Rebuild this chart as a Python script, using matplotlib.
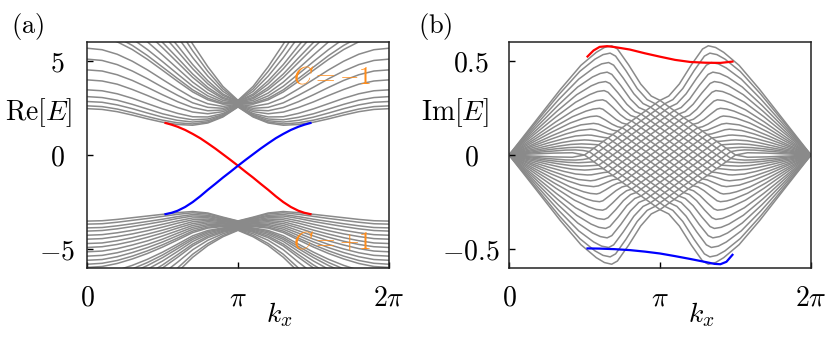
import numpy as np
import matplotlib
matplotlib.use("Agg")
import matplotlib.pyplot as plt

plt.rcParams['mathtext.fontset'] = 'cm'
plt.rcParams['font.family'] = 'serif'
plt.rcParams['font.serif'] = ['DejaVu Serif']

# ---- panel (a): Re[E], bulk bands read on the left half (kx in units of pi), mirrored about pi
kx_half = [0, 0.1, 0.2, 0.3, 0.4, 0.5, 0.6, 0.7, 0.8, 0.9, 1.0]

re_upper = [
    [2.46, 2.42, 2.30, 2.12, 1.92, 1.74, 1.62, 1.58, 1.70, 2.02, 2.55],
    [2.61, 2.57, 2.44, 2.25, 2.04, 1.85, 1.71, 1.65, 1.75, 2.05, 2.57],
    [2.84, 2.80, 2.66, 2.46, 2.23, 2.01, 1.84, 1.75, 1.82, 2.10, 2.59],
    [3.10, 3.05, 2.91, 2.69, 2.44, 2.19, 2.00, 1.87, 1.91, 2.14, 2.61],
    [3.46, 3.41, 3.25, 3.01, 2.73, 2.45, 2.21, 2.03, 2.02, 2.20, 2.62],
    [3.99, 3.93, 3.76, 3.48, 3.16, 2.82, 2.52, 2.28, 2.19, 2.30, 2.64],
    [4.52, 4.46, 4.26, 3.96, 3.59, 3.20, 2.83, 2.52, 2.35, 2.39, 2.66],
    [5.09, 5.02, 4.80, 4.46, 4.05, 3.60, 3.17, 2.77, 2.53, 2.48, 2.68],
    [5.67, 5.59, 5.35, 4.98, 4.52, 4.01, 3.51, 3.04, 2.72, 2.58, 2.70],
    [6.36, 6.27, 6.01, 5.60, 5.08, 4.50, 3.91, 3.35, 2.93, 2.70, 2.72],
    [6.61, 6.52, 6.25, 5.82, 5.28, 4.67, 4.06, 3.46, 3.01, 2.74, 2.73],
    [7.01, 6.92, 6.63, 6.17, 5.60, 4.96, 4.30, 3.65, 3.14, 2.81, 2.75],
    [7.51, 7.41, 7.10, 6.62, 6.01, 5.31, 4.59, 3.87, 3.29, 2.90, 2.77],
    [8.06, 7.95, 7.63, 7.11, 6.45, 5.70, 4.91, 4.12, 3.47, 2.99, 2.79],
    [8.46, 8.35, 8.01, 7.47, 6.77, 5.98, 5.15, 4.30, 3.59, 3.06, 2.81],
    [9.06, 8.94, 8.58, 8.00, 7.26, 6.41, 5.50, 4.58, 3.78, 3.16, 2.83],
    [9.56, 9.43, 9.05, 8.45, 7.66, 6.76, 5.80, 4.80, 3.94, 3.24, 2.84],
    [10.36, 10.22, 9.81, 9.16, 8.31, 7.33, 6.27, 5.17, 4.19, 3.38, 2.86],
    [11.16, 11.01, 10.57, 9.87, 8.96, 7.89, 6.74, 5.53, 4.44, 3.51, 2.88],
    [11.96, 11.80, 11.34, 10.59, 9.61, 8.46, 7.21, 5.89, 4.69, 3.64, 2.90],
]

re_lower = [
    [-3.51, -3.49, -3.42, -3.33, -3.24, -3.15, -3.06, -3.00, -3.08, -3.30, -3.50],
    [-3.67, -3.65, -3.57, -3.47, -3.37, -3.26, -3.15, -3.07, -3.13, -3.33, -3.52],
    [-3.87, -3.85, -3.76, -3.65, -3.53, -3.41, -3.27, -3.16, -3.20, -3.38, -3.55],
    [-4.04, -4.01, -3.92, -3.80, -3.67, -3.53, -3.37, -3.24, -3.26, -3.41, -3.57],
    [-4.26, -4.23, -4.13, -4.00, -3.85, -3.68, -3.50, -3.34, -3.33, -3.46, -3.60],
    [-4.47, -4.44, -4.33, -4.19, -4.02, -3.83, -3.62, -3.44, -3.40, -3.50, -3.62],
    [-4.70, -4.67, -4.55, -4.39, -4.20, -3.99, -3.76, -3.54, -3.47, -3.54, -3.64],
    [-4.91, -4.87, -4.75, -4.58, -4.37, -4.14, -3.88, -3.64, -3.54, -3.59, -3.67],
    [-5.14, -5.10, -4.97, -4.78, -4.56, -4.30, -4.02, -3.74, -3.61, -3.63, -3.69],
    [-5.37, -5.33, -5.19, -4.99, -4.75, -4.47, -4.15, -3.84, -3.69, -3.67, -3.71],
    [-5.59, -5.55, -5.40, -5.18, -4.92, -4.62, -4.28, -3.94, -3.76, -3.72, -3.74],
    [-5.80, -5.75, -5.60, -5.37, -5.09, -4.77, -4.41, -4.04, -3.83, -3.76, -3.76],
    [-5.97, -5.92, -5.76, -5.52, -5.23, -4.89, -4.51, -4.12, -3.88, -3.80, -3.79],
    [-6.35, -6.30, -6.12, -5.86, -5.54, -5.16, -4.73, -4.29, -4.01, -3.87, -3.81],
    [-6.56, -6.50, -6.32, -6.05, -5.71, -5.31, -4.85, -4.39, -4.07, -3.91, -3.83],
    [-6.76, -6.70, -6.51, -6.23, -5.87, -5.45, -4.97, -4.48, -4.14, -3.95, -3.86],
    [-7.01, -6.95, -6.75, -6.45, -6.07, -5.63, -5.12, -4.59, -4.22, -4.00, -3.88],
    [-7.31, -7.24, -7.03, -6.72, -6.31, -5.84, -5.29, -4.73, -4.31, -4.05, -3.90],
    [-7.54, -7.47, -7.25, -6.92, -6.50, -6.00, -5.43, -4.83, -4.39, -4.10, -3.93],
    [-7.98, -7.91, -7.67, -7.31, -6.86, -6.31, -5.69, -5.03, -4.53, -4.18, -3.95],
    [-8.51, -8.43, -8.18, -7.79, -7.29, -6.69, -6.00, -5.27, -4.70, -4.27, -3.98],
    [-8.86, -8.78, -8.51, -8.10, -7.57, -6.93, -6.21, -5.43, -4.81, -4.34, -4.00],
]

edge_kx = [0.52, 0.56, 0.6, 0.65, 0.7, 0.75, 0.8, 0.85, 0.9, 0.95, 1.0,
           1.05, 1.1, 1.15, 1.2, 1.25, 1.3, 1.35, 1.4, 1.44, 1.48]
red_re = [1.70, 1.61, 1.50, 1.33, 1.12, 0.89, 0.62, 0.34, 0.04, -0.26, -0.57,
          -0.89, -1.20, -1.53, -1.85, -2.19, -2.50, -2.76, -2.96, -3.07, -3.14]
blue_re = [-3.14, -3.07, -2.96, -2.76, -2.50, -2.19, -1.85, -1.53, -1.20, -0.89, -0.57,
           -0.26, 0.04, 0.34, 0.62, 0.89, 1.12, 1.33, 1.50, 1.61, 1.70]

# ---- panel (b): Im[E], upper-left fan curves (kx in units of pi), mirrored about pi and about 0
im_fan_kx = [
    [0, .17, .34, .476, .578, .632, .68, .718, .792, .872, .942, 1.0],
    [0, .1675, .335, .469, .5695, .623, .67, .706, .775, .849, .915, .969, 1.0],
    [0, .165, .33, .462, .561, .614, .66, .693, .757, .827, .888, .9375, 1.0],
    [0, .1625, .325, .455, .5525, .6045, .65, .681, .740, .804, .860, .906, 1.0],
    [0, .16, .32, .448, .544, .595, .64, .668, .722, .781, .833, .875, 1.0],
    [0, .1575, .315, .441, .5355, .586, .63, .656, .705, .758, .805, .844, 1.0],
    [0, .155, .31, .434, .527, .577, .62, .643, .687, .736, .778, .8125, 1.0],
    [0, .15, .30, .42, .51, .558, .60, .622, .663, .709, .748, .781, 1.0],
    [0, .145, .29, .406, .493, .539, .58, .600, .640, .682, .719, .75, 1.0],
    [0, .14, .28, .392, .476, .56, .592, .640, .687, .719, 1.0],
    [0, .135, .27, .378, .459, .54, .570, .614, .658, .6875, 1.0],
    [0, .13, .26, .364, .442, .52, .547, .588, .629, .656, 1.0],
    [0, .125, .25, .35, .425, .50, .525, .5625, .60, .625, 1.0],
    [0, .12, .24, .336, .408, .48, .54, .594, 1.0],
    [0, .115, .23, .322, .391, .46, .51, .5625, 1.0],
    [0, .11, .22, .308, .374, .44, .49, .531, 1.0],
    [0, .105, .21, .294, .357, .42, .5, 1.0],
]
im_fan_val = [
    [0, .174, .348, .476, .545, .571, .580, .563, .479, .377, .313, .290],
    [0, .162, .325, .444, .509, .533, .541, .525, .447, .353, .294, .272, .254],
    [0, .147, .295, .403, .462, .484, .491, .477, .408, .325, .273, .254, .2175],
    [0, .132, .264, .361, .414, .433, .440, .428, .369, .297, .252, .236, .181],
    [0, .117, .234, .320, .367, .384, .390, .380, .330, .269, .231, .2175, .145],
    [0, .103, .205, .280, .321, .337, .342, .333, .292, .242, .210, .199, .109],
    [0, .088, .176, .240, .275, .289, .293, .286, .254, .215, .190, .181, .0725],
    [0, .074, .149, .203, .233, .244, .248, .243, .218, .189, .170, .163, .036],
    [0, .062, .124, .170, .195, .204, .207, .203, .185, .164, .150, .145, 0],
    [0, .050, .101, .138, .160, .168, .164, .148, .132, .127, -.036],
    [0, .041, .082, .112, .130, .137, .134, .123, .112, .109, -.0725],
    [0, .032, .064, .087, .101, .106, .105, .099, .093, .091, -.109],
    [0, .024, .048, .066, .076, .080, .079, .076, .073, .0725, -.145],
    [0, .018, .035, .048, .056, .059, .057, .054, -.181],
    [0, .012, .025, .034, .039, .041, .039, .036, -.2175],
    [0, .008, .016, .022, .026, .027, .024, .018, -.254],
    [0, .004, .007, .010, .011, .012, 0, -.29],
]

red_im_kx = [0.52, 0.56, 0.6, 0.65, 0.7, 0.8, 0.9, 1.0, 1.1, 1.2, 1.3, 1.4, 1.48]
red_im = [0.523, 0.555, 0.574, 0.578, 0.573, 0.56, 0.54, 0.522, 0.505, 0.494, 0.49, 0.489, 0.496]
blue_im_kx = [0.52, 0.6, 0.7, 0.8, 0.9, 1.0, 1.1, 1.2, 1.3, 1.36, 1.4, 1.44, 1.48]
blue_im = [-0.496, -0.497, -0.50, -0.505, -0.513, -0.523, -0.537, -0.552, -0.568, -0.578,
           -0.58, -0.567, -0.53]

gray = '#8a8a8a'
orange = '#ff8c1a'


def mirror(xs, ys):
    xs = np.asarray(xs, dtype=float)
    ys = np.asarray(ys, dtype=float)
    x = np.concatenate([xs, 2 - xs[-2::-1]])
    y = np.concatenate([ys, ys[-2::-1]])
    return x * np.pi, y


fig = plt.figure(figsize=(8.3, 3.4), dpi=100)
ax1 = fig.add_axes([87 / 830, 1 - 268 / 340, 302 / 830, 226 / 340])
ax2 = fig.add_axes([509 / 830, 1 - 268 / 340, 302 / 830, 226 / 340])

for row in re_upper + re_lower:
    x, y = mirror(kx_half, row)
    ax1.plot(x, y, color=gray, lw=1.1, zorder=1)
ax1.plot(np.array(edge_kx) * np.pi, red_re, color='red', lw=1.6, zorder=3)
ax1.plot(np.array(edge_kx) * np.pi, blue_re, color='blue', lw=1.6, zorder=3)
ax1.text(5.10, 4.15, r'$C=-1$', color=orange, fontsize=18, ha='center', va='center', zorder=4)
ax1.text(5.10, -4.63, r'$C=+1$', color=orange, fontsize=18, ha='center', va='center', zorder=4)
ax1.set_ylim(-6, 6)
ax1.set_yticks([-5, 0, 5])
ax1.set_yticklabels([r'$-5$', r'$0$', r'$5$'])
ax1.set_ylabel(r'$\mathrm{Re}[E]$', rotation=0, fontsize=20)
ax1.yaxis.set_label_coords(-0.159, 0.686)

for xs, ys in zip(im_fan_kx, im_fan_val):
    x, y = mirror(xs, ys)
    ax2.plot(x, y, color=gray, lw=1.1, zorder=1)
    ax2.plot(x, -y, color=gray, lw=1.1, zorder=1)
ax2.plot(np.array(red_im_kx) * np.pi, red_im, color='red', lw=1.6, zorder=3)
ax2.plot(np.array(blue_im_kx) * np.pi, blue_im, color='blue', lw=1.6, zorder=3)
ax2.set_ylim(-0.6, 0.6)
ax2.set_yticks([-0.5, 0, 0.5])
ax2.set_yticklabels([r'$-0.5$', r'$0$', r'$0.5$'])
ax2.set_ylabel(r'$\mathrm{Im}[E]$', rotation=0, fontsize=20)
ax2.yaxis.set_label_coords(-0.180, 0.686)

for ax, ypad in [(ax1, 21.6), (ax2, 27.4)]:
    ax.set_xlim(0, 2 * np.pi)
    ax.set_xticks([0, np.pi, 2 * np.pi])
    ax.set_xticklabels([r'$0$', r'$\pi$', r'$2\pi$'])
    ax.tick_params(direction='in', length=4, width=1, labelsize=20, top=False, right=False)
    ax.tick_params(axis='x', pad=12)
    ax.tick_params(axis='y', pad=ypad)
    for lab in ax.get_yticklabels():
        lab.set_horizontalalignment('center')
    ax.set_xlabel(r'$k_x$', fontsize=20)
    ax.xaxis.set_label_coords(0.636, -0.208)
    ax.xaxis.label.set_verticalalignment('center')
    ax.yaxis.label.set_verticalalignment('center')
    ax.yaxis.label.set_horizontalalignment('center')
    for sp in ax.spines.values():
        sp.set_linewidth(1.1)
        sp.set_color('#222222')

fig.text(28 / 830, 1 - 26 / 340, r'$\mathrm{(a)}$', fontsize=19, ha='center', va='center')
fig.text(435 / 830, 1 - 27 / 340, r'$\mathrm{(b)}$', fontsize=19, ha='center', va='center')

fig.savefig('out.png', dpi=100)
